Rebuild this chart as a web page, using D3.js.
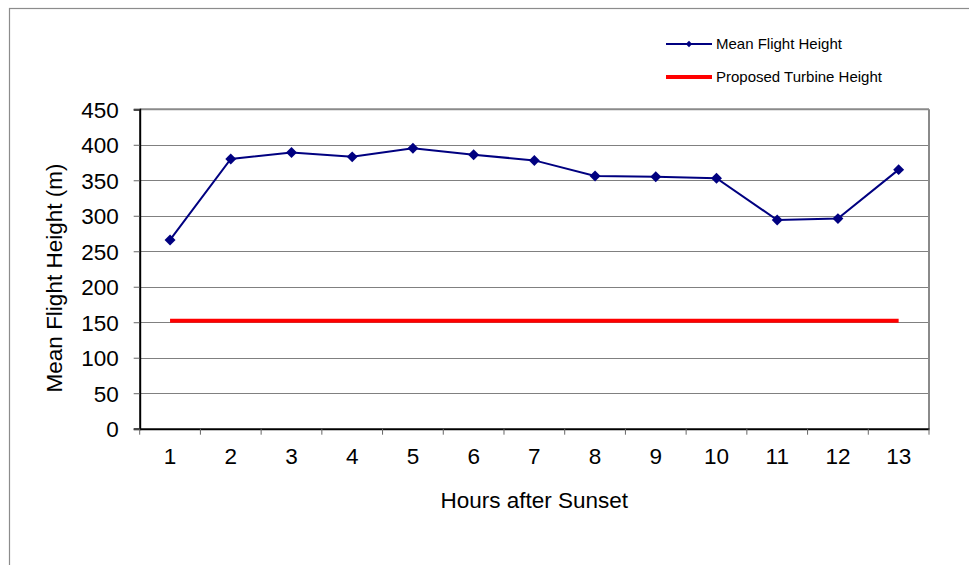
<!DOCTYPE html>
<html>
<head>
<meta charset="utf-8">
<script src="https://cdn.jsdelivr.net/npm/d3@7"></script>
<style>
  html, body { margin: 0; padding: 0; background: #ffffff; }
  svg { display: block; font-family: "Liberation Sans", Arial, sans-serif; }
</style>
</head>
<body>
<svg id="chart" width="969" height="565"></svg>
<script>
const hours = ["1","2","3","4","5","6","7","8","9","10","11","12","13"];
const meanFlightHeight = [266, 380, 389, 383, 395, 386, 378, 356, 355, 353, 294, 296, 365];
const turbineHeight = [152, 152, 152, 152, 152, 152, 152, 152, 152, 152, 152, 152, 152];
const yTicks = [0, 50, 100, 150, 200, 250, 300, 350, 400, 450];
const seriesNames = ["Mean Flight Height", "Proposed Turbine Height"];
const xTitle = "Hours after Sunset";
const yTitle = "Mean Flight Height (m)";

(function () {
const svg = d3.select("#chart");
const pLeft = 139.7, pRight = 929, pTop = 109.3, pBottom = 428.7;

// outer chart border
svg.append("rect").attr("x", 9.5).attr("y", 8.5).attr("width", 1200).attr("height", 1200)
  .attr("fill", "none").attr("stroke", "#8c8c8c").attr("stroke-width", 1.2);

const x = d3.scaleBand().domain(hours).range([pLeft, pRight]).padding(0);
const y = d3.scaleLinear().domain([0, 450]).range([pBottom, pTop]);

// gridlines
svg.append("g").selectAll("line").data(yTicks.filter(d => d > 0)).join("line")
  .attr("x1", pLeft).attr("x2", pRight)
  .attr("y1", d => Math.round(y(d)) + 0.5).attr("y2", d => Math.round(y(d)) + 0.5)
  .attr("stroke", "#808080").attr("stroke-width", 1);

// plot border right/top
svg.append("line").attr("x1", pRight).attr("x2", pRight).attr("y1", pTop).attr("y2", pBottom)
  .attr("stroke", "#8a8a8a").attr("stroke-width", 2);
svg.append("line").attr("x1", pLeft).attr("x2", pRight).attr("y1", pTop).attr("y2", pTop)
  .attr("stroke", "#8a8a8a").attr("stroke-width", 2);

// y axis
const yAxis = d3.axisLeft(y).tickValues(yTicks).tickSize(6).tickPadding(15);
const gy = svg.append("g").attr("transform", `translate(${pLeft},0)`).call(yAxis);
gy.select(".domain").attr("stroke", "#000").attr("stroke-width", 2);
gy.selectAll(".tick line").attr("stroke", "#666");
gy.selectAll(".tick text").attr("font-size", "22.5px").attr("fill", "#000")
  .attr("font-family", "Liberation Sans, Arial, sans-serif").attr("dy", "0.36em");

// x axis
const xAxis = d3.axisBottom(x).tickSize(0).tickPadding(0);
const gx = svg.append("g").attr("transform", `translate(0,${pBottom})`).call(xAxis);
gx.select(".domain").attr("stroke", "#000").attr("stroke-width", 2);
gx.selectAll(".tick text").attr("font-size", "22.5px").attr("fill", "#000")
  .attr("font-family", "Liberation Sans, Arial, sans-serif").attr("dy", null).attr("y", 35.3);
// category boundary ticks
const bounds = hours.map(h => x(h)).concat([x(hours[hours.length - 1]) + x.bandwidth()]);
svg.append("g").selectAll("line").data(bounds).join("line")
  .attr("x1", d => d).attr("x2", d => d).attr("y1", pBottom).attr("y2", pBottom + 6)
  .attr("stroke", "#666").attr("stroke-width", 1);

// axis titles
svg.append("text").attr("x", 534.3).attr("y", 507.5).attr("text-anchor", "middle")
  .attr("font-size", "22.5px").attr("fill", "#000").text(xTitle);
svg.append("text").attr("transform", "translate(62,278) rotate(-90)").attr("text-anchor", "middle")
  .attr("font-size", "22.5px").attr("fill", "#000").text(yTitle);

const cx = h => x(h) + x.bandwidth() / 2;

// turbine line
svg.append("path").datum(turbineHeight)
  .attr("d", d3.line().x((d, i) => cx(hours[i])).y(d => y(d)))
  .attr("fill", "none").attr("stroke", "#ff0000").attr("stroke-width", 4);

// mean flight height line
svg.append("path").datum(meanFlightHeight)
  .attr("d", d3.line().x((d, i) => cx(hours[i])).y(d => y(d)))
  .attr("fill", "none").attr("stroke", "#000080").attr("stroke-width", 2);

const diamond = d3.symbol().type(d3.symbolSquare).size(60);
svg.append("g").selectAll("path").data(meanFlightHeight).join("path")
  .attr("d", diamond)
  .attr("transform", (d, i) => `translate(${cx(hours[i])},${y(d)}) rotate(45)`)
  .attr("fill", "#000080");

// legend
const lg = svg.append("g");
lg.append("line").attr("x1", 666).attr("x2", 712).attr("y1", 44).attr("y2", 44)
  .attr("stroke", "#000080").attr("stroke-width", 2);
lg.append("path").attr("d", d3.symbol().type(d3.symbolSquare).size(20))
  .attr("transform", "translate(689,44) rotate(45)").attr("fill", "#000080");
lg.append("text").attr("x", 716).attr("y", 49.3).attr("font-size", "15px").attr("fill", "#000")
  .text(seriesNames[0]);
lg.append("line").attr("x1", 666).attr("x2", 712).attr("y1", 77).attr("y2", 77)
  .attr("stroke", "#ff0000").attr("stroke-width", 4);
lg.append("text").attr("x", 716).attr("y", 82.2).attr("font-size", "15px").attr("fill", "#000")
  .text(seriesNames[1]);
})();
</script>
</body>
</html>
